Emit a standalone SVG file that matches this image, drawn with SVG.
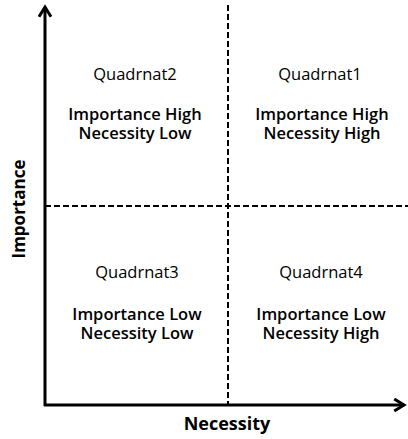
<svg xmlns="http://www.w3.org/2000/svg" width="408" height="439" viewBox="0 0 408 439">
  <style>
    text { font-family: "Open Sans", "Noto Sans", "Liberation Sans", sans-serif; fill: #000; text-anchor: middle; }
    .title { font-size: 16.5px; font-weight: 400; }
    .desc { font-size: 16.5px; font-weight: 600; }
    .axis-label { font-size: 18px; font-weight: 700; }
    .axis { stroke: #000; stroke-width: 3; fill: none; }
    .divider { stroke: #000; stroke-width: 2; stroke-dasharray: 6 3; fill: none; }
  </style>
  <defs>
    <marker id="arrow" viewBox="0 0 10 10" refX="8" refY="5" markerWidth="5" markerHeight="5" orient="auto" markerUnits="strokeWidth">
      <path d="M1.5,1 L8,5 L1.5,9" fill="none" stroke="#000" stroke-width="2" stroke-linejoin="miter"/>
    </marker>
  </defs>
  <rect width="408" height="439" fill="#fff"/>

  <g id="connectors">
    <line class="divider" x1="228" y1="5" x2="228" y2="405"/>
    <line class="divider" x1="45" y1="206" x2="408" y2="206"/>
    <line class="axis" x1="45" y1="406" x2="45" y2="7" marker-end="url(#arrow)"/>
    <line class="axis" x1="44" y1="405" x2="404" y2="405" marker-end="url(#arrow)"/>
  </g>

  <g id="quadrant2">
    <text class="title" x="135" y="80">Quadrnat2</text>
    <text class="desc" x="135" y="120">Importance High<tspan x="135" dy="19">Necessity Low</tspan></text>
  </g>
  <g id="quadrant1">
    <text class="title" x="320" y="80">Quadrnat1</text>
    <text class="desc" x="322" y="120">Importance High<tspan x="322" dy="19">Necessity High</tspan></text>
  </g>
  <g id="quadrant3">
    <text class="title" x="137" y="278">Quadrnat3</text>
    <text class="desc" x="137" y="320">Importance Low<tspan x="137" dy="19">Necessity Low</tspan></text>
  </g>
  <g id="quadrant4">
    <text class="title" x="321" y="278">Quadrnat4</text>
    <text class="desc" x="321" y="320">Importance Low<tspan x="321" dy="19">Necessity High</tspan></text>
  </g>

  <g id="axis-labels">
    <text class="axis-label" x="227" y="430">Necessity</text>
    <text class="axis-label" style="font-size:17px" transform="translate(25 209) rotate(-90)">Importance</text>
  </g>
</svg>
